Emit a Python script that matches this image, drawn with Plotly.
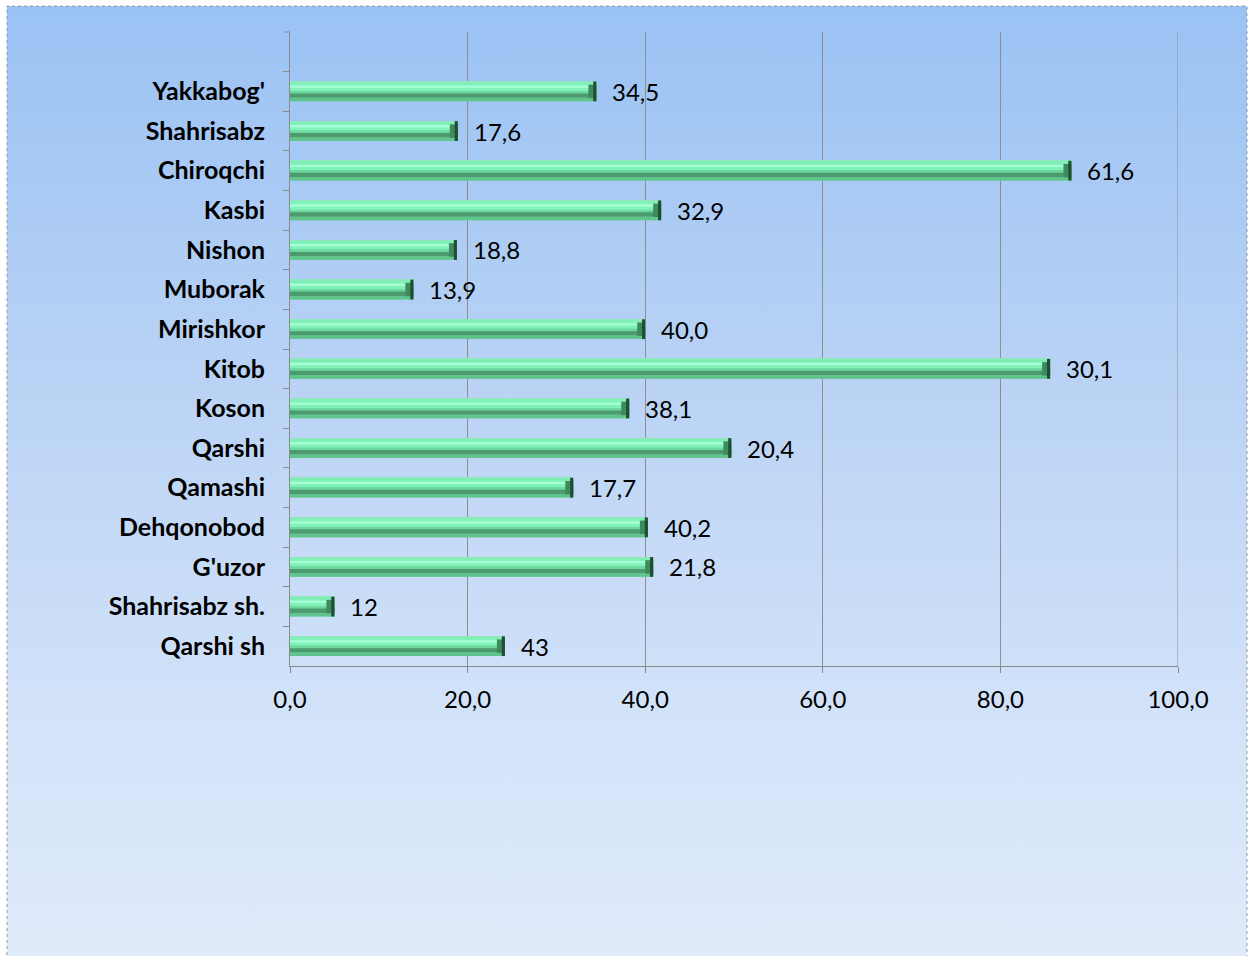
import base64
import plotly.graph_objects as go

# ---- data ----
categories = ["Yakkabog'", "Shahrisabz", "Chiroqchi", "Kasbi", "Nishon", "Muborak",
              "Mirishkor", "Kitob", "Koson", "Qarshi", "Qamashi", "Dehqonobod",
              "G'uzor", "Shahrisabz sh.", "Qarshi sh"]
bar_values = [34.5, 18.9, 88.0, 41.8, 18.8, 13.9, 40.0, 85.6, 38.2, 49.7,
              31.9, 40.3, 40.9, 5.0, 24.2]
value_labels = ["34,5", "17,6", "61,6", "32,9", "18,8", "13,9", "40,0", "30,1",
                "38,1", "20,4", "17,7", "40,2", "21,8", "12", "43"]
x_ticks = [0, 20, 40, 60, 80, 100]

W, H = 1251, 956
L, R, T, B = 290, 1251 - 1178, 32, 956 - 666
PW, PH = W - L - R, H - T - B

FONT = "Lato, 'Open Sans', sans-serif"

fig = go.Figure()

# bevelled bar imitation: base + bands (offsets in category units, axis reversed)
bands = [
    (-0.25, 0.50, "#6AD99D"),
    (-0.25, 0.04, "#8CE9BB"),
    (-0.21, 0.20, "#80F1B7"),
    (-0.15, 0.06, "#A6FFD6"),
    (-0.01, 0.06, "#6CD79E"),
    (0.05, 0.11, "#4C9A6D"),
    (0.16, 0.09, "#62C48D"),
]
for off, wid, col in bands:
    fig.add_trace(go.Bar(
        y=categories, x=bar_values, orientation="h",
        offset=off, width=wid, marker=dict(color=col, line=dict(width=0)),
        hoverinfo="skip", showlegend=False))

# end bevel (darker at the right end)
cap_len = 0.9
fig.add_trace(go.Bar(
    y=categories, x=[cap_len] * len(bar_values),
    base=[v - cap_len for v in bar_values], orientation="h",
    offset=-0.17, width=0.34, marker=dict(color="#3E8A5D", line=dict(width=0)),
    hoverinfo="skip", showlegend=False))
fig.add_trace(go.Bar(
    y=categories, x=[0.35] * len(bar_values),
    base=[v - 0.35 for v in bar_values], orientation="h",
    offset=-0.25, width=0.50, marker=dict(color="#1F4D34", line=dict(width=0)),
    hoverinfo="skip", showlegend=False))

# data labels
for cat, v, lab in zip(categories, bar_values, value_labels):
    fig.add_annotation(x=v, y=cat, text=lab, showarrow=False, xanchor="left",
                       yanchor="middle", xshift=14,
                       font=dict(family=FONT, size=24, color="#000000"))

# gradient background via inline SVG
svg = (
    '<svg xmlns="http://www.w3.org/2000/svg" width="1240" height="960" preserveAspectRatio="none">'
    '<defs><linearGradient id="g" x1="0" y1="0" x2="0" y2="1">'
    '<stop offset="0" stop-color="#9AC2F4"/>'
    '<stop offset="0.4" stop-color="#BAD3F5"/>'
    '<stop offset="0.75" stop-color="#D3E3F9"/>'
    '<stop offset="1" stop-color="#E0EBFA"/>'
    '</linearGradient></defs>'
    '<rect width="1240" height="960" fill="url(#g)"/></svg>'
)
src = "data:image/svg+xml;base64," + base64.b64encode(svg.encode()).decode()

def px(xp):
    return (xp - L) / PW

def py(yp):
    return (H - B - yp) / PH

fig.add_layout_image(dict(
    source=src, xref="paper", yref="paper",
    x=px(7), y=py(6), sizex=px(1247) - px(7), sizey=py(6) - py(966),
    xanchor="left", yanchor="top", sizing="stretch", layer="below"))

fig.add_shape(type="rect", xref="paper", yref="paper",
              x0=px(7), x1=px(1247), y0=py(966), y1=py(6),
              line=dict(color="#9A9A9A", width=1, dash="dot"), layer="below")

# top boundary tick of the category axis
fig.add_shape(type="line", xref="paper", yref="paper",
              x0=-6 / PW, x1=0, y0=1, y1=1,
              line=dict(color="#8A8A8A", width=1))

# gridline at the last tick (plotly drops it at the range edge)
fig.add_shape(type="line", xref="x", yref="paper",
              x0=x_ticks[-1], x1=x_ticks[-1], y0=0, y1=1,
              line=dict(color="#8E8E8E", width=1), layer="below")

fig.update_layout(
    width=W, height=H,
    margin=dict(l=L, r=R, t=T, b=B, pad=0),
    paper_bgcolor="#FFFFFF",
    plot_bgcolor="rgba(0,0,0,0)",
    barmode="overlay",
    separators=", ",
    showlegend=False,
    xaxis=dict(
        range=[0, 100], tickvals=x_ticks, tickformat=".1f",
        showgrid=True, gridcolor="#8E8E8E", gridwidth=1,
        zeroline=False, showline=True, linecolor="#8A8A8A", linewidth=1,
        ticks="outside", ticklen=6, tickcolor="#8A8A8A",
        tickfont=dict(family=FONT, size=24, color="#000000"),
        ticklabelstandoff=6,
    ),
    yaxis=dict(
        type="category", range=[14.5, -1.5],
        showgrid=False, zeroline=False, showline=True,
        linecolor="#8A8A8A", linewidth=1,
        ticks="outside", ticklen=6, tickcolor="#8A8A8A", tickson="boundaries",
        tickfont=dict(family=FONT, size=25, color="#000000", weight="bold"),
        ticklabelstandoff=19,
    ),
)

fig.write_html("out.html", config={"displayModeBar": False},
               post_script="document.body.style.margin='0';document.body.style.overflow='hidden';")
